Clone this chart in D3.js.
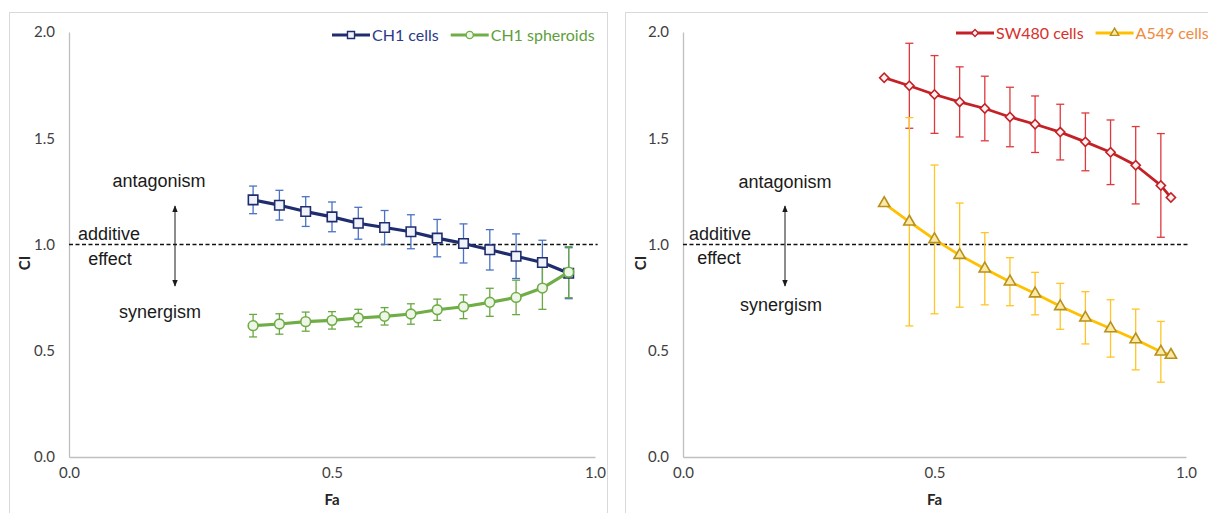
<!DOCTYPE html>
<html>
<head>
<meta charset="utf-8">
<script src="https://cdn.jsdelivr.net/npm/d3@7"></script>
<style>
  body { margin: 0; background: #fff; }
  .tick text { font-family: Lato, "Open Sans", sans-serif; font-size: 15px; fill: #404040; }
  .note { font-family: "Liberation Sans", Arial, sans-serif; font-size: 18px; fill: #1a1a1a; }
  .title { font-family: Lato, "Open Sans", sans-serif; font-size: 15px; font-weight: bold; fill: #262626; }
  .legend { font-family: Lato, "Open Sans", sans-serif; font-size: 16px; }
</style>
</head>
<body>
<div id="chartArea"></div>
<script>
// fraction affected (x) for each panel
var faLeft = [0.35, 0.40, 0.45, 0.50, 0.55, 0.60, 0.65, 0.70, 0.75, 0.80, 0.85, 0.90, 0.95];
var faRight = [0.40, 0.45, 0.50, 0.55, 0.60, 0.65, 0.70, 0.75, 0.80, 0.85, 0.90, 0.95, 0.97];

// combination index values and error (+/-)
var ch1Cells = [1.21, 1.185, 1.155, 1.13, 1.10, 1.08, 1.06, 1.03, 1.005, 0.975, 0.945, 0.915, 0.865];
var ch1CellsErr = [0.065, 0.07, 0.07, 0.07, 0.075, 0.08, 0.08, 0.088, 0.092, 0.095, 0.105, 0.105, 0.12];
var ch1Spheroids = [0.618, 0.626, 0.637, 0.643, 0.654, 0.662, 0.673, 0.693, 0.707, 0.728, 0.751, 0.795, 0.87];
var ch1SpheroidsErr = [0.053, 0.048, 0.045, 0.041, 0.041, 0.041, 0.048, 0.05, 0.056, 0.066, 0.081, 0.1, 0.12];

var sw480 = [1.785, 1.747, 1.706, 1.671, 1.64, 1.60, 1.566, 1.529, 1.483, 1.434, 1.373, 1.278, 1.221];
var sw480Err = [0, 0.2, 0.183, 0.165, 0.152, 0.14, 0.133, 0.131, 0.136, 0.152, 0.182, 0.244, 0];
var a549 = [1.194, 1.107, 1.024, 0.95, 0.886, 0.825, 0.769, 0.709, 0.655, 0.605, 0.553, 0.495, 0.48];
var a549Err = [0, 0.49, 0.35, 0.245, 0.17, 0.113, 0.1, 0.108, 0.123, 0.135, 0.143, 0.143, 0];

var yTicks = [0, 0.5, 1.0, 1.5, 2.0];
var xTicks = [0, 0.5, 1.0];

var W = 1208, H = 513;

var svg = d3.select('#chartArea').append('svg')
    .attr('width', W)
    .attr('height', H);

var yScale = d3.scaleLinear().domain([0, 2]).range([457, 32]);

var panels = [
    {
        box: [9, 12, 598, 520], xRange: [69, 595], ciX: 25, legendX: 332, legendY: 35,
        notes: { antagonism: [159, 181], additive: [109, 234], effect: [110, 259], synergism: [160, 312], arrowX: 175 },
        series: [
            { name: 'CH1 cells', x: faLeft, y: ch1Cells, err: ch1CellsErr, line: '#1f2d6e', errColor: '#4a72c4',
              mark: d3.symbolSquare, rot: 0, size: 90, fill: '#f1f3fa', markStroke: '#1f2d6e', text: '#2b3a8a', width: 3.2 },
            { name: 'CH1 spheroids', x: faLeft, y: ch1Spheroids, err: ch1SpheroidsErr, line: '#70ad47', errColor: '#6aa843',
              mark: d3.symbolCircle, rot: 0, size: 75, fill: '#eef6e8', markStroke: '#70ad47', text: '#5e9e3c', width: 3.2 }
        ]
    },
    {
        box: [625, 12, 600, 520], xRange: [683, 1186], ciX: 641, legendX: 956, legendY: 33,
        notes: { antagonism: [785, 182], additive: [720, 234], effect: [719, 258], synergism: [781, 305], arrowX: 785 },
        series: [
            { name: 'SW480 cells', x: faRight, y: sw480, err: sw480Err, line: '#c42127', errColor: '#e0393c',
              mark: d3.symbolSquare, rot: 45, size: 42, fill: '#fdf0f0', markStroke: '#c42127', text: '#d8302c', width: 2.8 },
            { name: 'A549 cells', x: faRight, y: a549, err: a549Err, line: '#ffc000', errColor: '#ffc525',
              mark: d3.symbolTriangle, rot: 0, size: 55, fill: '#fde9a8', markStroke: '#b8911a', text: '#f08a3c', width: 2.8 }
        ]
    }
];

var defs = svg.append('defs');
defs.append('marker')
    .attr('id', 'arrow')
    .attr('viewBox', '0 0 10 10')
    .attr('refX', 9).attr('refY', 5)
    .attr('markerWidth', 7).attr('markerHeight', 7)
    .attr('orient', 'auto-start-reverse')
    .append('path')
    .attr('d', 'M0,1 L10,5 L0,9 Z')
    .attr('fill', '#1a1a1a');

panels.forEach(function(p) {
    var g = svg.append('g');
    var xScale = d3.scaleLinear().domain([0, 1]).range(p.xRange);

    // panel frame
    g.append('rect')
        .attr('x', p.box[0] + 0.5).attr('y', p.box[1] + 0.5)
        .attr('width', p.box[2]).attr('height', p.box[3])
        .attr('fill', 'none')
        .attr('stroke', '#d9d9d9');

    var yAxis = g.append('g')
        .attr('transform', 'translate(' + p.xRange[0] + ',0)')
        .call(d3.axisLeft(yScale).tickValues(yTicks).tickSize(0).tickSizeOuter(0).tickPadding(14).tickFormat(d3.format('.1f')));
    yAxis.select('.domain').attr('stroke', '#bfbfbf').attr('stroke-width', 1.3);

    var xAxis = g.append('g')
        .attr('transform', 'translate(0,' + yScale(0) + ')')
        .call(d3.axisBottom(xScale).tickValues(xTicks).tickSize(0).tickSizeOuter(0).tickPadding(10).tickFormat(d3.format('.1f')));
    xAxis.select('.domain').attr('stroke', '#bfbfbf').attr('stroke-width', 1.3);

    // axis titles
    g.append('text')
        .attr('class', 'title')
        .attr('transform', 'translate(' + p.ciX + ',' + 263 + ') rotate(-90)')
        .attr('text-anchor', 'middle')
        .attr('dy', '0.35em')
        .text('CI');
    g.append('text')
        .attr('class', 'title')
        .attr('x', xScale(0.5)).attr('y', 500)
        .attr('text-anchor', 'middle')
        .attr('dy', '0.35em')
        .text('Fa');

    // additive line
    g.append('line')
        .attr('x1', xScale(0)).attr('x2', xScale(1.005))
        .attr('y1', yScale(1)).attr('y2', yScale(1))
        .attr('stroke', '#111')
        .attr('stroke-width', 1.5)
        .attr('stroke-dasharray', '4,2.5');

    // annotations
    ['antagonism', 'additive', 'effect', 'synergism'].forEach(function(k) {
        g.append('text')
            .attr('class', 'note')
            .attr('x', p.notes[k][0]).attr('y', p.notes[k][1])
            .attr('text-anchor', 'middle')
            .attr('dy', '0.35em')
            .text(k);
    });
    g.append('line')
        .attr('x1', p.notes.arrowX).attr('x2', p.notes.arrowX)
        .attr('y1', 206).attr('y2', 286)
        .attr('stroke', '#1a1a1a')
        .attr('stroke-width', 1)
        .attr('marker-start', 'url(#arrow)')
        .attr('marker-end', 'url(#arrow)');

    p.series.forEach(function(s) {
        var pts = s.x.map(function(x, i) { return { x: x, y: s.y[i], e: s.err[i] }; });

        // error bars
        var eb = g.append('g').selectAll('g')
            .data(pts.filter(function(d) { return d.e > 0; }))
            .enter().append('g')
            .attr('stroke', s.errColor)
            .attr('stroke-width', 1.3);
        eb.append('line')
            .attr('x1', function(d) { return xScale(d.x); })
            .attr('x2', function(d) { return xScale(d.x); })
            .attr('y1', function(d) { return yScale(d.y - d.e); })
            .attr('y2', function(d) { return yScale(d.y + d.e); });
        [-1, 1].forEach(function(sign) {
            eb.append('line')
                .attr('x1', function(d) { return xScale(d.x) - 4; })
                .attr('x2', function(d) { return xScale(d.x) + 4; })
                .attr('y1', function(d) { return yScale(d.y + sign * d.e); })
                .attr('y2', function(d) { return yScale(d.y + sign * d.e); });
        });
    });

    p.series.forEach(function(s) {
        var pts = s.x.map(function(x, i) { return { x: x, y: s.y[i] }; });
        var line = d3.line()
            .x(function(d) { return xScale(d.x); })
            .y(function(d) { return yScale(d.y); });

        g.append('path')
            .datum(pts)
            .attr('d', line)
            .attr('fill', 'none')
            .attr('stroke', s.line)
            .attr('stroke-width', s.width)
            .attr('stroke-linejoin', 'round');

        g.append('g').selectAll('path')
            .data(pts)
            .enter().append('path')
            .attr('d', d3.symbol().type(s.mark).size(s.size))
            .attr('transform', function(d) {
                return 'translate(' + xScale(d.x) + ',' + yScale(d.y) + ') rotate(' + s.rot + ')';
            })
            .attr('fill', s.fill)
            .attr('stroke', s.markStroke)
            .attr('stroke-width', 1.6);
    });

    // legend
    var lx = p.legendX;
    p.series.forEach(function(s) {
        var lg = g.append('g').attr('transform', 'translate(' + lx + ',' + p.legendY + ')');
        lg.append('line')
            .attr('x1', 0).attr('x2', 38)
            .attr('stroke', s.line)
            .attr('stroke-width', s.width);
        lg.append('path')
            .attr('d', d3.symbol().type(s.mark).size(s.size * 0.55))
            .attr('transform', 'translate(19,0) rotate(' + s.rot + ')')
            .attr('fill', s.fill)
            .attr('stroke', s.markStroke)
            .attr('stroke-width', 1.4);
        var t = lg.append('text')
            .attr('class', 'legend')
            .attr('x', 40)
            .attr('dy', '0.35em')
            .attr('fill', s.text)
            .text(s.name);
        lx += 40 + t.node().getComputedTextLength() + 12;
    });
});
</script>
</body>
</html>
